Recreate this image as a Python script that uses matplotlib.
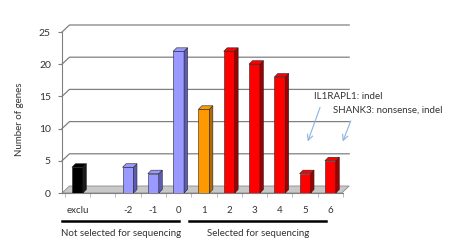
import numpy as np
import matplotlib.pyplot as plt
from matplotlib.patches import Polygon

# Datos del grafico
categorias = ['exclu', '', '-2', '-1', '0', '1', '2', '3', '4', '5', '6']
valores = [4, 0, 4, 3, 22, 13, 22, 20, 18, 3, 5]
colores = ['black', None, '#9999ff', '#9999ff', '#9999ff', '#ff9900',
           '#ff0000', '#ff0000', '#ff0000', '#ff0000', '#ff0000']
lados = ['#1a1a1a', None, '#5c5cb8', '#5c5cb8', '#5c5cb8', '#b36b00',
         '#a00000', '#a00000', '#a00000', '#a00000', '#a00000']
grupos = ['Not selected for sequencing', 'Selected for sequencing']
grupo_rango = [(-0.61, 4.03), (4.43, 9.82)]
notas = ['IL1RAPL1: indel', 'SHANK3: nonsense, indel']

plt.rcParams['font.family'] = ['Lato', 'DejaVu Sans']
texto = '#333333'

fig = plt.figure(figsize=(4.5, 2.49), dpi=100)
ax = fig.add_axes([62 / 450, 56 / 249, 281 / 450, 161 / 249])
x0, x1 = -0.61, 10.45
ax.set_xlim(x0, x1)
ax.set_ylim(0, 25)

# pixeles -> unidades de datos
px_x = ax.bbox.width / (x1 - x0)
px_y = ax.bbox.height / 25
ox, oy = 7.5 / px_x, 7 / px_y      # profundidad de la pared
bx, by = 3.5 / px_x, 3.5 / px_y    # profundidad de las barras
ancho = 11 / px_x

# Piso gris
ax.add_patch(Polygon([(x0, 0), (x1, 0), (x1 + ox, oy), (x0 + ox, oy)],
                     closed=True, facecolor='#c8c8c8', edgecolor='#8c8c8c',
                     lw=0.6, clip_on=False, zorder=1))

# Lineas de cuadricula en la pared del fondo
for v in [5, 10, 15, 20, 25]:
    ax.plot([x0, x0 + ox, x1 + ox], [v, v + oy, v + oy], color='#808080',
            lw=0.9, clip_on=False, zorder=1)

# Barras con efecto 3D
for i, (v, c, s) in enumerate(zip(valores, colores, lados)):
    if v == 0:
        continue
    ax.bar(i, v, width=ancho, color=c, edgecolor='#222222', lw=0.4, zorder=3)
    izq, der = i - ancho / 2, i + ancho / 2
    ax.add_patch(Polygon([(der, 0), (der + bx, by), (der + bx, v + by), (der, v)],
                         closed=True, facecolor=s, edgecolor='#222222', lw=0.4,
                         zorder=3, clip_on=False))
    ax.add_patch(Polygon([(izq, v), (der, v), (der + bx, v + by), (izq + bx, v + by)],
                         closed=True, facecolor=c, edgecolor='#222222', lw=0.4,
                         zorder=3, clip_on=False))

# Ejes
for lado in ['top', 'right']:
    ax.spines[lado].set_visible(False)
ax.spines['left'].set_color('#808080')
ax.spines['bottom'].set_color('#808080')
ax.set_yticks([0, 5, 10, 15, 20, 25])
ax.tick_params(axis='y', length=3, color='#808080', labelsize=7.5,
               labelcolor=texto, pad=5)
ax.set_xticks(range(len(categorias)))
ax.set_xticklabels(categorias)
ax.tick_params(axis='x', length=0, labelsize=7, labelcolor=texto, pad=9)
ax.set_xticks(np.arange(-0.5, 10.6, 1), minor=True)
ax.tick_params(axis='x', which='minor', length=3, color='#b0b0b0')
ax.set_ylabel('Number of genes', fontsize=7, color=texto)
ax.yaxis.set_label_coords(-0.137, 0.46)

# Grupos debajo del eje
for nombre, (a, b) in zip(grupos, grupo_rango):
    ax.plot([a, b], [-4.4, -4.4], color='black', lw=1.8, clip_on=False)
    ax.text((a + b) / 2, -6.3, nombre, ha='center', va='center', fontsize=7,
            color=texto, clip_on=False)

# Anotaciones
ax.text(9.35, 15.0, notas[0], fontsize=7, color=texto, va='center')
ax.text(10.1, 12.8, notas[1], fontsize=7, color=texto, va='center')
ax.annotate('', xy=(9.07, 7.6), xytext=(9.63, 13.7),
            arrowprops=dict(arrowstyle='->', color='#8db3e2', lw=0.8))
ax.annotate('', xy=(10.45, 7.6), xytext=(10.85, 11.6),
            arrowprops=dict(arrowstyle='->', color='#8db3e2', lw=0.8),
            annotation_clip=False)

plt.savefig('out.png', dpi=100)
